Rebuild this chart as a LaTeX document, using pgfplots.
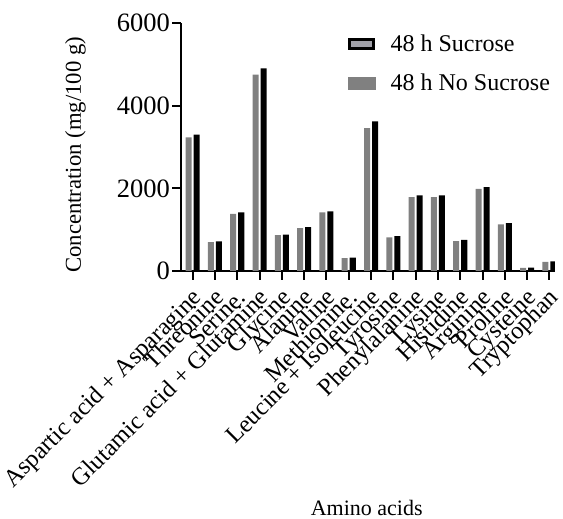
\documentclass[border=0pt]{standalone}
\usepackage{pgfplots}
\pgfplotsset{compat=1.18}
\usepackage{fontspec}
\setmainfont{Liberation Serif}
\definecolor{barg}{RGB}{128,128,128}
\definecolor{legg}{RGB}{160,160,168}
\begin{document}
\begin{tikzpicture}
\path[use as bounding box] (-181.5pt,-248pt) rectangle (381.5pt,271pt);
\begin{axis}[
  scale only axis, width=373.5pt, height=248pt,
  at={(0,0)}, anchor=south west,
  xmin=-0.5, xmax=16.25, ymin=0, ymax=6000,
  axis lines*=left,
  axis line style={line width=2pt, -},
  tick align=outside,
  major tick style={line width=2pt, black},
  major tick length=9pt,
  xtick={0,...,16},
  xticklabels={Aspartic acid + Asparagine, Threonine, Serine., Glutamic acid + Glutamine, Glycine, Alanine, Valine, Methionine., Leucine + Isoleucine, Tyrosine, Phenylalanine, Lysine, Histidine, Arginine, Proline, Cysteine, Tryptophan},
  xticklabel style={xshift=6pt, yshift=-15pt, rotate=45, anchor=east, inner sep=0pt, text height=17pt, text depth=5.5pt, font=\fontsize{24.5}{28}\selectfont},
  ytick={0,2000,4000,6000},
  yticklabel style={font=\fontsize{26.5}{30}\selectfont, inner sep=2.5pt},
  /pgf/number format/assume math mode=true,
  /pgf/number format/1000 sep={},
  scaled y ticks=false,
  ylabel={Concentration (mg/100 g)},
  xlabel={Amino acids},
  every axis y label/.style={at={(rel axis cs:-0.284,0.468)}, rotate=90, anchor=center, font=\fontsize{22.7}{26}\selectfont},
  every axis x label/.style={at={(rel axis cs:0.496,-0.985)}, anchor=base, font=\fontsize{22}{26}\selectfont},
  legend style={draw=none, fill=none, at={(rel axis cs:0.4458,0.962)}, anchor=north west, font=\fontsize{24}{27}\selectfont, row sep=17pt, inner sep=0pt, /tikz/every odd column/.append style={column sep=13pt}},
  legend cell align=left,
]
\addplot[ybar, bar width=0.27, bar shift=-0.18, fill=barg, draw=none, forget plot] coordinates {
(0,3230) (1,700) (2,1380) (3,4750) (4,865) (5,1035) (6,1420) (7,310) (8,3455) (9,815) (10,1790) (11,1790) (12,725) (13,1985) (14,1130) (15,75) (16,220)};
\addplot[ybar, bar width=0.27, bar shift=0.18, fill=black, draw=none, forget plot] coordinates {
(0,3300) (1,715) (2,1420) (3,4905) (4,880) (5,1060) (6,1445) (7,325) (8,3620) (9,845) (10,1830) (11,1830) (12,750) (13,2030) (14,1160) (15,80) (16,235)};
\addlegendimage{legend image code/.code={\draw[line width=3pt, fill=legg] (1.5pt,-4.5pt) rectangle (25.5pt,4.5pt);}}
\addlegendentry{48 h Sucrose}
\addlegendimage{legend image code/.code={\fill[barg] (0pt,-6pt) rectangle (27pt,6pt);}}
\addlegendentry{48 h No Sucrose}
\end{axis}
\end{tikzpicture}
\end{document}
